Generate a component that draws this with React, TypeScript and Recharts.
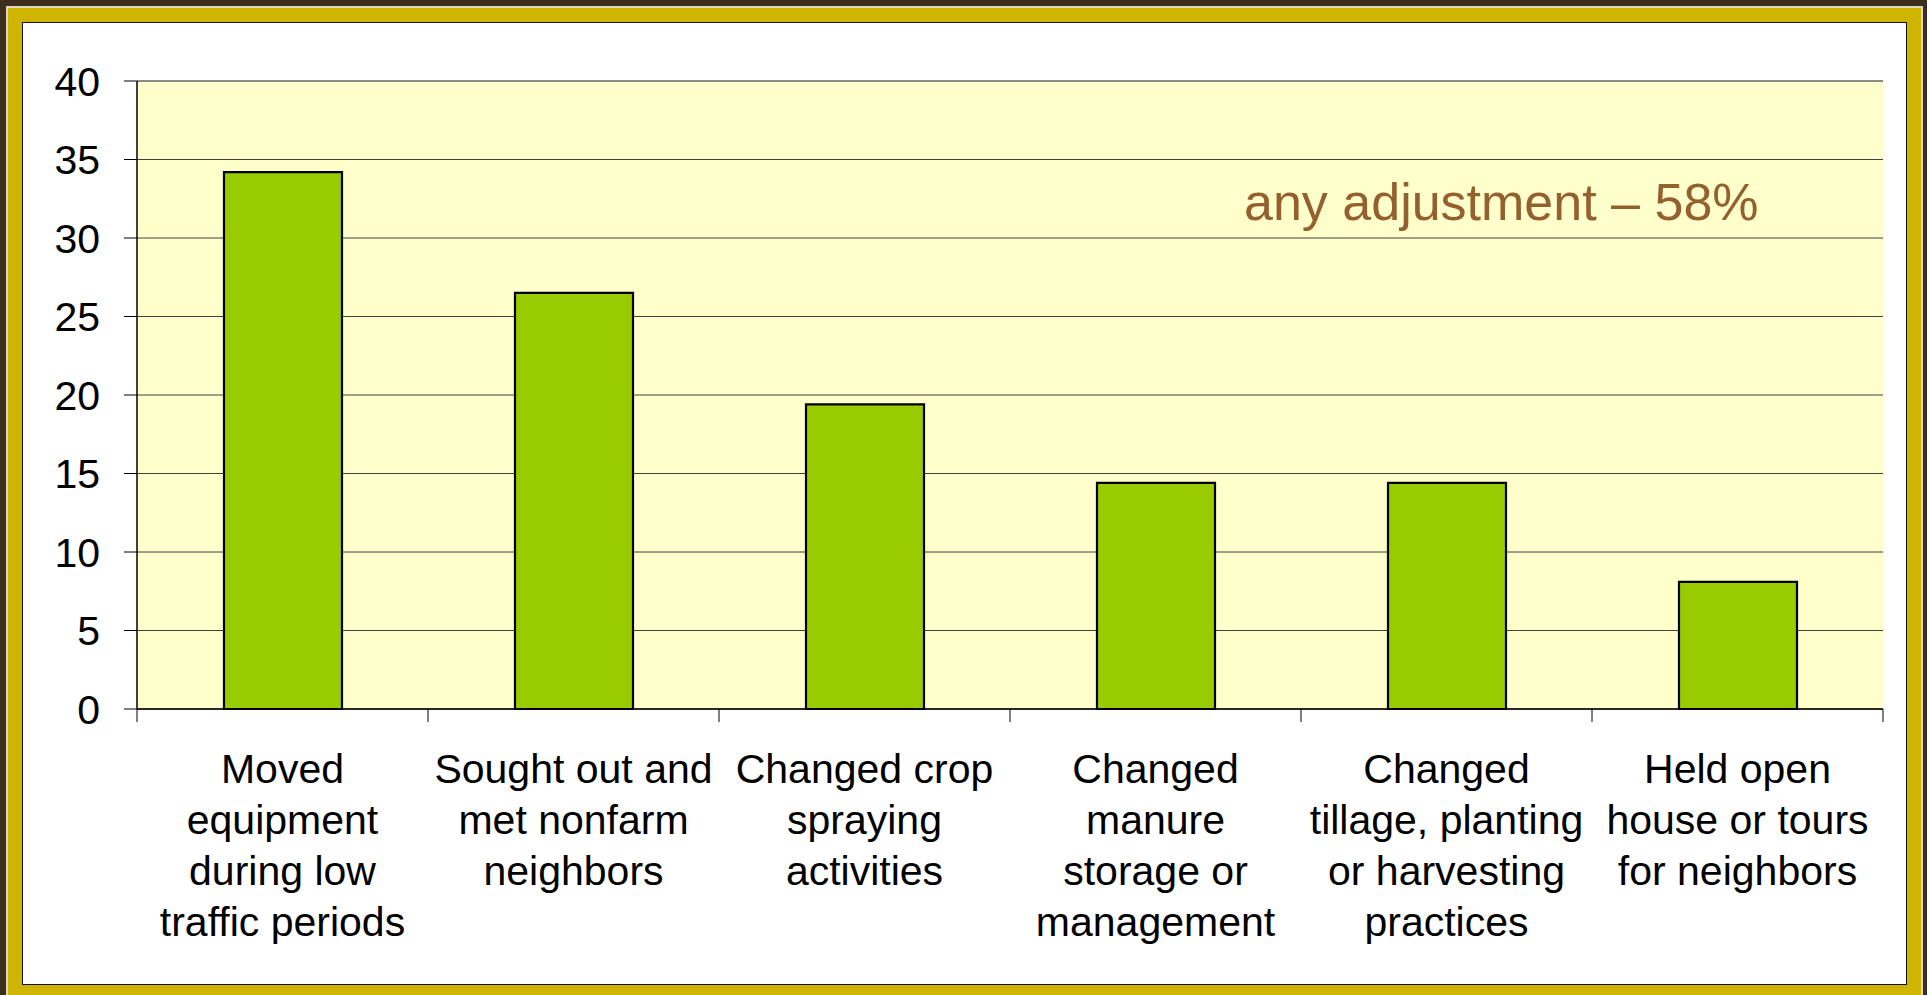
import React from 'react';
import { BarChart, Bar, XAxis, YAxis, CartesianGrid, ReferenceLine } from 'recharts';

// category labels, one entry per line
const categories = [
  'Moved equipment during low traffic periods',
  'Sought out and met nonfarm neighbors',
  'Changed crop spraying activities',
  'Changed manure storage or management',
  'Changed tillage, planting or harvesting practices',
  'Held open house or tours for neighbors',
];

const labelLines = [
  ['Moved', 'equipment', 'during low', 'traffic periods'],
  ['Sought out and', 'met nonfarm', 'neighbors'],
  ['Changed crop', 'spraying', 'activities'],
  ['Changed', 'manure', 'storage or', 'management'],
  ['Changed', 'tillage, planting', 'or harvesting', 'practices'],
  ['Held open', 'house or tours', 'for neighbors'],
];

const percents = [34.2, 26.5, 19.4, 14.4, 14.4, 8.1];

const yTicks = [0, 5, 10, 15, 20, 25, 30, 35, 40];

const note = 'any adjustment \u2013 58%';

const FONT = '"Liberation Sans", Arial, Helvetica, sans-serif';

const W = 1927;
const H = 995;
const PLOT_LEFT = 137;
const PLOT_RIGHT = 1883;

const data = categories.map((name, i) => ({ name, value: percents[i], idx: i }));

const CategoryTick = (props: any) => {
  const { x, y, payload, index } = props;
  const half = payload && payload.offset ? payload.offset : (PLOT_RIGHT - PLOT_LEFT) / categories.length / 2;
  const i = typeof index === 'number' ? index : categories.indexOf(payload.value);
  const lines = labelLines[i] || [payload.value];
  return (
    <g>
      <line x1={x - half} y1={y} x2={x - half} y2={y + 13} stroke="#000" strokeWidth={1} />
      {i === categories.length - 1 && (
        <line x1={x + half} y1={y} x2={x + half} y2={y + 13} stroke="#000" strokeWidth={1} />
      )}
      <text textAnchor="middle" fill="#000" fontSize={41} fontFamily={FONT}>
        {lines.map((l, k) => (
          <tspan key={k} x={x} y={y + 74 + k * 51}>
            {l}
          </tspan>
        ))}
      </text>
    </g>
  );
};

export default function App() {
  return (
    <div style={{ position: 'absolute', left: 0, top: 0, width: W, height: H, overflow: 'hidden', background: '#3d2f1e' }}>
      {/* frame */}
      <div style={{ position: 'absolute', left: 6, top: 6, width: 1917, height: 1000, background: '#ddd6c4' }} />
      <div style={{ position: 'absolute', left: 8, top: 8, width: 1913, height: 1000, background: '#cfb400' }} />
      <div
        style={{
          position: 'absolute',
          left: 22,
          top: 22,
          width: 1885,
          height: 963,
          boxSizing: 'border-box',
          border: '1px solid #111',
          background: '#fff',
        }}
      />
      <div style={{ position: 'absolute', left: 0, top: 0 }}>
        <BarChart
          width={W}
          height={H}
          data={data}
          margin={{ top: 81, right: W - PLOT_RIGHT, left: 0, bottom: 26 }}
          barSize={118}
        >
          <CartesianGrid vertical={false} stroke="#404040" fill="#ffffcc" fillOpacity={1} />
          <XAxis
            dataKey="name"
            height={260}
            interval={0}
            tickLine={false}
            tickSize={0}
            tickMargin={0}
            axisLine={{ stroke: '#000', strokeWidth: 1.5 }}
            tick={<CategoryTick />}
          />
          <YAxis
            width={PLOT_LEFT}
            domain={[0, 40]}
            ticks={yTicks}
            interval={0}
            tickSize={13}
            tickMargin={24}
            tickLine={{ stroke: '#000' }}
            axisLine={{ stroke: '#000', strokeWidth: 1.5 }}
            tick={{ fill: '#000', fontSize: 41, fontFamily: FONT }}
          />
          <YAxis
            yAxisId="frame"
            orientation="right"
            width={0}
            domain={[0, 40]}
            ticks={yTicks}
            tick={false}
            tickLine={false}
            axisLine={{ stroke: '#8a8a8a', strokeWidth: 2 }}
          />
          <ReferenceLine y={40} stroke="#8a8a8a" strokeWidth={2} />
          <Bar dataKey="value" fill="#99cc00" stroke="#000" strokeWidth={2.2} isAnimationActive={false} />
        </BarChart>
      </div>
      <svg style={{ position: 'absolute', left: 0, top: 0 }} width={W} height={H}>
        <text x={1244} y={220} fill="#94602e" fontSize={52} fontFamily={FONT}>
          {note}
        </text>
      </svg>
    </div>
  );
}
